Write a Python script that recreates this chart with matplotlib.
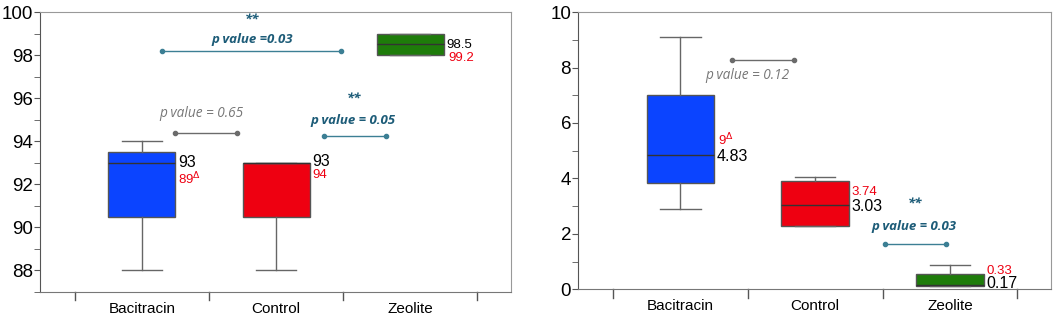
import matplotlib.pyplot as plt
import numpy as np

plt.rcParams['font.family'] = ['Liberation Sans', 'DejaVu Sans']

groups = ['Bacitracin', 'Control', 'Zeolite']
colors = ['#0B44FF', '#EE0011', '#1E7C0A']

# left panel: whisker low, q1, median, q3, whisker high
left_lo = [88, 88, 98]
left_q1 = [90.5, 90.5, 98]
left_med = [93, 93, 98.5]
left_q3 = [93.5, 93, 99]
left_hi = [94, 93, 99]
left_black = ['93', '93', '98.5']
left_red = ['89$^{\\Delta}$', '94', '99.2']

# right panel
right_lo = [2.9, 2.3, 0.12]
right_q1 = [3.85, 2.3, 0.13]
right_med = [4.83, 3.03, 0.17]
right_q3 = [7.0, 3.9, 0.55]
right_hi = [9.1, 4.05, 0.88]
right_black = ['4.83', '3.03', '0.17']
right_red = ['9$^{\\Delta}$', '3.74', '0.33']

teal_txt = '#1D5C78'
teal_line = '#3C7F94'
grey = '#6B6B6B'

fig = plt.figure(figsize=(10.57, 3.17), dpi=100)
ax1 = fig.add_axes([0.0378, 0.079, 0.4456, 0.883])
ax2 = fig.add_axes([0.5468, 0.087, 0.4475, 0.875])


def draw_boxes(ax, lo, q1, med, q3, hi):
    stats = []
    for i in range(len(groups)):
        stats.append(dict(whislo=lo[i], q1=q1[i], med=med[i], q3=q3[i], whishi=hi[i], label=groups[i]))
    bp = ax.bxp(stats, positions=[1, 2, 3], widths=0.5, showfliers=False, patch_artist=True,
                boxprops=dict(edgecolor='#555555', linewidth=1.0),
                medianprops=dict(color='#333333', linewidth=1.0),
                whiskerprops=dict(color='#666666', linewidth=1.0),
                capprops=dict(color='#666666', linewidth=1.0), capwidths=0.3)
    for patch, c in zip(bp['boxes'], colors):
        patch.set_facecolor(c)


def style_axes(ax):
    ax.set_xlim(0.24, 3.75)
    ax.set_xticks([1, 2, 3])
    ax.set_xticklabels(groups, fontsize=11)
    ax.tick_params(axis='x', length=0, pad=7)
    for x in [0.5, 1.5, 2.5, 3.5]:
        ax.plot([x, x], [0, -0.03], color='#555555', lw=1.0, transform=ax.get_xaxis_transform(), clip_on=False)
    ax.tick_params(axis='y', labelsize=13.5, length=4, color='#555555', pad=1)
    ax.tick_params(axis='y', which='minor', length=4, color='#555555')
    for s in ['top', 'right']:
        ax.spines[s].set_color('#999999')
    ax.spines['left'].set_color('#555555')
    ax.spines['bottom'].set_color('#777777')


def pline(ax, x0, x1, y, c):
    ax.plot([x0, x1], [y, y], color=c, lw=1.0, marker='o', markersize=3)


draw_boxes(ax1, left_lo, left_q1, left_med, left_q3, left_hi)
style_axes(ax1)
ax1.set_ylim(87, 100)
ax1.set_yticks(np.arange(88, 101, 2))
ax1.set_yticks(np.arange(87, 100, 2), minor=True)

# value labels, left
ax1.text(1.27, 93, left_black[0], fontsize=11.5, va='center', ha='left')
ax1.text(1.27, 92.25, left_red[0], fontsize=9.5, va='center', ha='left', color='#EE0011')
ax1.text(2.27, 93.05, left_black[1], fontsize=11.5, va='center', ha='left')
ax1.text(2.27, 92.45, left_red[1], fontsize=9.5, va='center', ha='left', color='#EE0011')
ax1.text(3.27, 98.45, left_black[2], fontsize=9.5, va='center', ha='left')
ax1.text(3.28, 97.85, left_red[2], fontsize=9.5, va='center', ha='left', color='#EE0011')

pfont = ['Open Sans', 'DejaVu Sans']
ax1.text(1.82, 99.65, '**', fontsize=9.5, color=teal_txt, ha='center', va='center', style='italic', weight='bold', family=pfont)
ax1.text(1.82, 98.72, 'p value =0.03', fontsize=9.5, color=teal_txt, ha='center', va='center', style='italic', weight='bold', family=pfont)
pline(ax1, 1.15, 2.48, 98.19, teal_line)
ax1.text(1.44, 95.3, 'p value = 0.65', fontsize=9.8, color='#777777', ha='center', va='center', style='italic', family=pfont)
pline(ax1, 1.25, 1.71, 94.37, grey)
ax1.text(2.58, 95.95, '**', fontsize=9.5, color=teal_txt, ha='center', va='center', style='italic', weight='bold', family=pfont)
ax1.text(2.57, 94.97, 'p value = 0.05', fontsize=9.5, color=teal_txt, ha='center', va='center', style='italic', weight='bold', family=pfont)
pline(ax1, 2.36, 2.82, 94.23, teal_line)

draw_boxes(ax2, right_lo, right_q1, right_med, right_q3, right_hi)
style_axes(ax2)
ax2.set_ylim(0, 10)
ax2.set_yticks(np.arange(0, 11, 2))
ax2.set_yticks(np.arange(1, 10, 2), minor=True)

ax2.text(1.28, 5.38, right_red[0], fontsize=9.5, va='center', ha='left', color='#EE0011')
ax2.text(1.27, 4.8, right_black[0], fontsize=11.5, va='center', ha='left')
ax2.text(2.27, 3.5, right_red[1], fontsize=9.5, va='center', ha='left', color='#EE0011')
ax2.text(2.27, 3.0, right_black[1], fontsize=11.5, va='center', ha='left')
ax2.text(3.27, 0.66, right_red[2], fontsize=9.5, va='center', ha='left', color='#EE0011')
ax2.text(3.27, 0.2, right_black[2], fontsize=11.5, va='center', ha='left')

pline(ax2, 1.38, 1.84, 8.27, grey)
ax2.text(1.5, 7.73, 'p value = 0.12', fontsize=9.8, color='#777777', ha='center', va='center', style='italic', family=pfont)
ax2.text(2.74, 3.07, '**', fontsize=9.5, color=teal_txt, ha='center', va='center', style='italic', weight='bold', family=pfont)
ax2.text(2.73, 2.28, 'p value = 0.03', fontsize=9.5, color=teal_txt, ha='center', va='center', style='italic', weight='bold', family=pfont)
pline(ax2, 2.52, 2.97, 1.62, teal_line)

fig.savefig('out.png', dpi=100)
